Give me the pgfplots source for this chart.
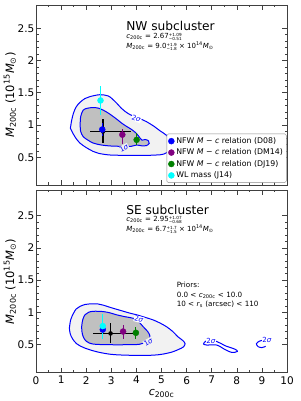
\documentclass[border=0pt]{standalone}
\usepackage{pgfplots}
\pgfplotsset{compat=1.18}
\usepackage{fontspec}
\setmainfont{DejaVu Sans}
\definecolor{fillout}{RGB}{242,242,242}
\definecolor{fillin}{RGB}{192,192,192}
\definecolor{cpurple}{RGB}{128,0,128}
\definecolor{cgreen}{RGB}{0,128,0}
\definecolor{ccyan}{RGB}{0,255,255}
\newcommand{\sz}[1]{\fontsize{#1}{#1}\selectfont}
\newcommand{\sub}[1]{\textsubscript{#1}}
\newcommand{\pmerr}[2]{\raisebox{-0.6pt}{\sz{4.2}\begin{tabular}{@{}l@{}}#1\\[-0.5pt]#2\end{tabular}}}
\tikzset{lab/.style={text=blue, font=\sz{7}, inner sep=0.5pt}}
\pgfplotsset{
  mystyle/.style={
    scale only axis, width=251pt,
    xmin=0, xmax=10,
    xtick={0,1,...,10}, minor x tick num=1,
    ytick={0.5,1,1.5,2,2.5}, minor y tick num=4,
    tick align=inside, xtick pos=both, ytick pos=both,
    major tick length=5pt, minor tick length=2.5pt,
    axis line style={black!75, line width=0.6pt},
    every tick/.style={black!75, line width=0.5pt},
    /pgf/number format/assume math mode=true,
    tick label style={font=\sz{10.5}},
    yticklabel style={inner sep=1.5pt},
    ylabel={\textit{M}\sub{200c} (10\textsuperscript{15}\textit{M}\sub{⊙})},
    ylabel style={at={(axis description cs:-0.104,0.5)}, anchor=center, font=\sz{11.5}},
    clip=true,
  },
  ctr/.style={draw=blue, line width=1pt, smooth, tension=0.55, forget plot},
  cross/.style={only marks, mark=none, forget plot,
    error bars/.cd, x dir=both, x explicit, y dir=both, y explicit,
    error mark=none, error bar style={line width=1.4pt, black}},
}
\begin{document}
\begin{tikzpicture}
\useasboundingbox (-36pt,-28.3pt) rectangle (264pt,372.7pt);
% ---------------- top panel (NW) ----------------
\begin{axis}[mystyle, at={(0pt,187.7pt)}, anchor=south west, height=180pt,
  ymin=0.07, ymax=2.86, xticklabel={\mbox{}},
  legend style={at={(0.998,0.012)}, anchor=south east, font=\sz{7.8},
    draw=black!45, rounded corners=1.5pt, fill=white, inner sep=1.5pt,
    row sep=0pt, cells={anchor=west}},
  legend cell align=left]
\addplot[ctr, fill=fillout] coordinates {
(1.37,0.95) (1.42,1.07) (1.49,1.18) (1.6,1.28) (1.75,1.35) (1.95,1.41) (2.15,1.44)
(2.55,1.47) (2.88,1.45) (3.05,1.40) (3.21,1.34) (3.4,1.26) (3.55,1.21) (3.75,1.16)
(3.94,1.13) (4.2,1.09) (4.41,1.05) (4.7,0.98) (4.94,0.91) (5.2,0.84) (5.4,0.74)
(5.35,0.62) (5.1,0.55) (4.8,0.535) (4.41,0.53) (3.61,0.53) (2.95,0.535) (2.5,0.56)
(2.28,0.59) (2.0,0.65) (1.75,0.72) (1.58,0.80) (1.47,0.87) (1.37,0.95)} -- cycle;
\addplot[ctr, fill=fillin] coordinates {
(1.76,1.0) (1.78,1.13) (1.88,1.23) (2.05,1.26) (2.28,1.27) (2.5,1.26) (2.68,1.23)
(2.9,1.18) (3.08,1.13) (3.25,1.08) (3.41,1.03) (3.6,0.98) (3.81,0.93) (4.0,0.87)
(4.14,0.80) (4.22,0.765) (4.35,0.775) (4.48,0.755) (4.51,0.715) (4.4,0.68) (4.25,0.675)
(4.1,0.685) (4.01,0.69) (3.8,0.67) (3.61,0.665) (3.3,0.67) (2.95,0.675) (2.6,0.69)
(2.28,0.72) (2.05,0.77) (1.88,0.82) (1.78,0.90) (1.76,1.0)} -- cycle;
\node[lab, fill=white, rotate=-22] at (axis cs:4.0,1.1) {2\textit{σ}};
\node[lab, fill=fillout, rotate=28] at (axis cs:3.5,0.645) {1\textit{σ}};
\addplot[cross] coordinates {(2.67,0.90) += (1.1,0.19) -= (0.5,0.18)};
\addplot[only marks, mark=*, mark size=3pt, color=blue,
  error bars/.cd, y dir=both, y explicit, error mark=none,
  error bar style={line width=1.1pt, blue}]
  coordinates {(2.64,0.93) +- (0,0.1)};
\addlegendentry{NFW \textit{M} − \textit{c} relation (D08)}
\addplot[only marks, mark=*, mark size=3pt, color=cpurple,
  error bars/.cd, y dir=both, y explicit, error mark=none,
  error bar style={line width=1.1pt, cpurple}]
  coordinates {(3.44,0.85) += (0,0.09) -= (0,0.14)};
\addlegendentry{NFW \textit{M} − \textit{c} relation (DM14)}
\addplot[only marks, mark=*, mark size=3pt, color=cgreen,
  error bars/.cd, y dir=both, y explicit, error mark=none,
  error bar style={line width=1.1pt, cgreen}]
  coordinates {(4.01,0.77) += (0,0.1) -= (0,0.08)};
\addlegendentry{NFW \textit{M} − \textit{c} relation (DJ19)}
\addplot[only marks, mark=*, mark size=3pt, color=ccyan,
  error bars/.cd, y dir=both, y explicit, error mark=none,
  error bar style={line width=1.1pt, ccyan}]
  coordinates {(2.57,1.38) += (0,0.22) -= (0,0.23)};
\addlegendentry{WL mass (J14)}
\node[anchor=base west, font=\sz{12.2}, inner sep=0pt] at (axis description cs:0.359,0.861) {NW subcluster};
\node[anchor=base west, font=\sz{7}, inner sep=0pt] at (axis description cs:0.359,0.816) {\textit{c}\sub{200c} = 2.67\pmerr{+1.09}{−0.51}};
\node[anchor=base west, font=\sz{7}, inner sep=0pt] at (axis description cs:0.359,0.760) {\textit{M}\sub{200c} = 9.0\pmerr{+1.9}{−1.8} × 10\textsuperscript{14}\textit{M}\sub{⊙}};
\end{axis}
% ---------------- bottom panel (SE) ----------------
\begin{axis}[mystyle, at={(0pt,0pt)}, anchor=south west, height=182.7pt,
  ymin=0.06, ymax=2.9,
  xlabel={\textit{c}\sub{200c}},
  xlabel style={at={(axis description cs:0.5,-0.112)}, anchor=center, font=\sz{11}}]
\addplot[ctr, fill=fillout] coordinates {
(1.33,0.75) (1.38,0.88) (1.49,0.98) (1.6,1.05) (1.75,1.09) (1.95,1.12) (2.15,1.13)
(2.45,1.13) (2.68,1.11) (3.0,1.07) (3.35,1.03) (3.7,0.99) (4.01,0.96) (4.35,0.92)
(4.67,0.88) (4.95,0.83) (5.2,0.775) (5.45,0.70) (5.65,0.62) (5.85,0.56) (5.94,0.51)
(5.87,0.46) (5.7,0.425) (5.45,0.385) (5.2,0.36) (4.9,0.34) (4.5,0.33) (3.88,0.33)
(3.4,0.335) (3.0,0.345) (2.6,0.37) (2.28,0.40) (1.9,0.45) (1.62,0.51) (1.45,0.59)
(1.36,0.67) (1.33,0.75)} -- cycle;
\addplot[ctr, fill=fillin] coordinates {
(1.82,0.78) (1.86,0.88) (1.95,0.96) (2.1,1.0) (2.3,1.015) (2.68,1.01) (2.95,0.99)
(3.21,0.96) (3.55,0.93) (3.88,0.905) (4.1,0.85) (4.27,0.775) (4.45,0.70) (4.54,0.63)
(4.5,0.565) (4.3,0.52) (4.1,0.50) (3.61,0.495) (2.95,0.495) (2.28,0.505) (2.0,0.55)
(1.88,0.62) (1.83,0.70) (1.82,0.78)} -- cycle;
\addplot[ctr] coordinates {
(6.67,0.505) (6.8,0.56) (7.2,0.545) (7.53,0.48) (7.93,0.425) (8.02,0.39) (7.8,0.375)
(7.53,0.42) (7.2,0.49) (6.8,0.49) (6.67,0.505)};
\addplot[ctr] coordinates {
(9.05,0.565) (8.9,0.55) (8.78,0.51) (8.85,0.465) (9.0,0.45) (9.15,0.47)};
\node[lab, fill=white, rotate=-15] at (axis cs:4.1,0.89) {2\textit{σ}};
\node[lab, fill=fillout, rotate=30] at (axis cs:4.47,0.54) {1\textit{σ}};
\node[lab, fill=white] at (axis cs:6.97,0.56) {2\textit{σ}};
\node[lab, fill=white] at (axis cs:9.2,0.565) {2\textit{σ}};
\addplot[cross] coordinates {(2.97,0.67) += (0.9,0.17) -= (0.69,0.15)};
\addplot[only marks, mark=*, mark size=3pt, color=blue,
  error bars/.cd, y dir=both, y explicit, error mark=none,
  error bar style={line width=1.1pt, blue}]
  coordinates {(2.66,0.73) +- (0,0.12)};
\addplot[only marks, mark=*, mark size=3pt, color=cpurple,
  error bars/.cd, y dir=both, y explicit, error mark=none,
  error bar style={line width=1.1pt, cpurple}]
  coordinates {(3.47,0.70) += (0,0.10) -= (0,0.11)};
\addplot[only marks, mark=*, mark size=3pt, color=cgreen,
  error bars/.cd, y dir=both, y explicit, error mark=none,
  error bar style={line width=1.1pt, cgreen}]
  coordinates {(3.98,0.68) += (0,0.095) -= (0,0.10)};
\addplot[only marks, mark=*, mark size=3pt, color=ccyan,
  error bars/.cd, y dir=both, y explicit, error mark=none,
  error bar style={line width=1.1pt, ccyan}]
  coordinates {(2.66,0.785) += (0,0.19) -= (0,0.2)};
\node[anchor=base west, font=\sz{12.2}, inner sep=0pt] at (axis description cs:0.359,0.865) {SE subcluster};
\node[anchor=base west, font=\sz{7}, inner sep=0pt] at (axis description cs:0.359,0.830) {\textit{c}\sub{200c} = 2.95\pmerr{+1.07}{−0.68}};
\node[anchor=base west, font=\sz{7}, inner sep=0pt] at (axis description cs:0.359,0.775) {\textit{M}\sub{200c} = 6.7\pmerr{+1.7}{−1.5} × 10\textsuperscript{14}\textit{M}\sub{⊙}};
\node[anchor=base west, font=\sz{7.2}, inner sep=0pt] at (axis description cs:0.56,0.464) {Priors:};
\node[anchor=base west, font=\sz{7.2}, inner sep=0pt] at (axis description cs:0.56,0.414) {0.0 < \textit{c}\sub{200c} < 10.0};
\node[anchor=base west, font=\sz{7.2}, inner sep=0pt] at (axis description cs:0.56,0.365) {10 < \textit{r}\sub{s} (arcsec) < 110};
\end{axis}
\end{tikzpicture}
\end{document}
